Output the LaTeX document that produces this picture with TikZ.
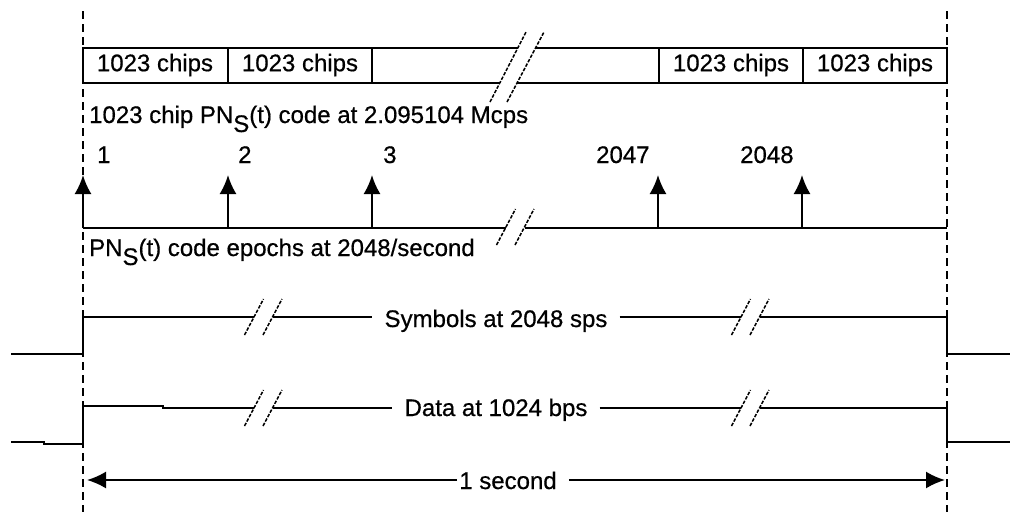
\documentclass[tikz,border=0pt]{standalone}
\usepackage{fontspec}
\setmainfont{Liberation Sans}[FakeBold=0.6]
\usetikzlibrary{arrows.meta}
\newcommand\brkmark[2]{%
  \draw[brk] (#1-9.5,#2+18) -- (#1+9.5,#2-18);
  \draw[brk] (#1+9,#2+18) -- (#1+28,#2-18);}
\begin{document}
\begin{tikzpicture}[x=1pt,y=-1pt,
  sig/.style={line width=2pt},
  guide/.style={line width=2pt, dash pattern=on 8pt off 5pt},
  brk/.style={line width=1.5pt, dash pattern=on 3.5pt off 1.5pt},
  lbl/.style={font=\fontsize{24}{28}\selectfont, inner sep=0pt},
  mid/.style={font=\fontsize{24}{28}\selectfont, inner ysep=0pt, inner xsep=12pt, anchor=base},
  tip/.style={-{Latex[length=19pt,width=17pt]}}]
\useasboundingbox (0,0) rectangle (1010,512);

% guides
\coordinate (gLt) at (83,11);  \coordinate (gLb) at (83,512);
\coordinate (gRt) at (947,11); \coordinate (gRb) at (947,512);
\draw[guide] (gLt) -- (gLb);
\draw[guide] (gRt) -- (gRb);

% chip box
\draw[sig] (518,48) -- (83,48) -- (83,83) -- (500,83);
\draw[sig] (535,48) -- (947,48) -- (947,83) -- (517,83);
\foreach \x in {228,372,659,803} \draw[sig] (\x,48) -- (\x,83);
\draw[brk] (490,102) -- (526,32);
\draw[brk] (507,102) -- (544,32);
\node[lbl] (c1) at (155,65) {1023 chips};
\node[lbl] (c2) at (300,65) {1023 chips};
\node[lbl] (c3) at (731,65) {1023 chips};
\node[lbl] (c4) at (875,65) {1023 chips};
\node[lbl, anchor=base west] (chiplbl) at (89,123)
  {1023 chip PN\raisebox{-9pt}{S}(t) code at 2.095104 Mcps};

% epochs
\node[lbl, anchor=base west] (n1) at (97,163) {1};
\node[lbl, anchor=base west] (n2) at (238,163) {2};
\node[lbl, anchor=base west] (n3) at (383,163) {3};
\node[lbl, anchor=base west] (n2047) at (596,163) {2047};
\node[lbl, anchor=base west] (n2048) at (740,163) {2048};
\foreach \x in {83,228,372,658,802} \draw[sig,tip] (\x,228) -- (\x,175);
\draw[sig] (83,228) -- (506,228);
\draw[sig] (525,228) -- (947,228);
\brkmark{506}{227}
\node[lbl, anchor=base west] (eplbl) at (89,256)
  {PN\raisebox{-9pt}{S}(t) code epochs at 2048/second};

% symbols
\node[mid] (sym) at (496,327) {Symbols at 2048 sps};
\draw[sig] (11,354) -- (83,354) -- (83,317) -- (254,317);
\draw[sig] (272.5,317) -- (sym.west |- 0,317);
\draw[sig] (sym.east |- 0,317) -- (741,317);
\draw[sig] (759.5,317) -- (947,317) -- (947,354) -- (1010,354);
\brkmark{254}{317}
\brkmark{741}{317}

% data
\node[mid] (dat) at (496,416) {Data at 1024 bps};
\draw[sig] (11,442) -- (44,442) -- (44,444) -- (83,444) -- (83,406) -- (163,406) -- (163,408) -- (254,408);
\draw[sig] (272.5,408) -- (dat.west |- 0,408);
\draw[sig] (dat.east |- 0,408) -- (741,408);
\draw[sig] (759.5,408) -- (947,408) -- (947,442) -- (1010,442);
\brkmark{254}{408}
\brkmark{741}{408}

% 1 second
\node[mid, inner xsep=0pt] (sec) at (508,489) {1 second};
\coordinate (secL) at (87,480);
\coordinate (secR) at (945,480);
\draw[sig,tip] (sec.west |- 0,480) ++(-2,0) -- (secL);
\draw[sig,tip] (sec.east |- 0,480) ++(12,0) -- (secR);
\end{tikzpicture}
\end{document}
